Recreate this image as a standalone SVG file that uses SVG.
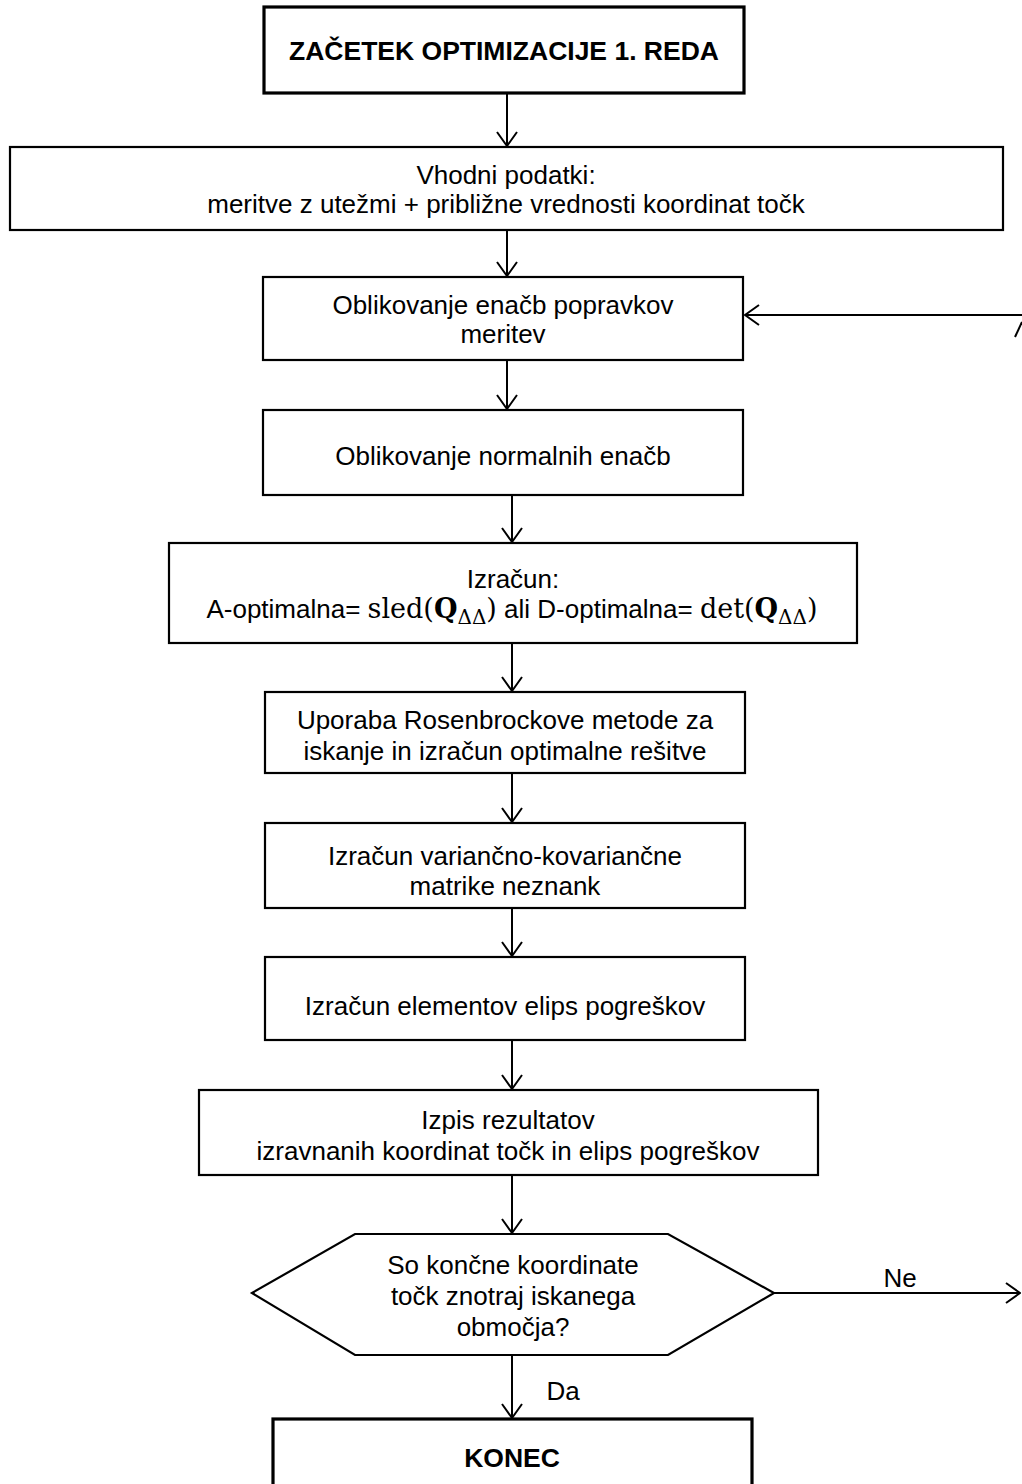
<svg xmlns="http://www.w3.org/2000/svg" width="1022" height="1484" viewBox="0 0 1022 1484">
  <style>
    .box { fill: #fff; stroke: #000; stroke-width: 2.2; }
    .term { fill: #fff; stroke: #000; stroke-width: 3.2; }
    .t { font-family: "Liberation Sans", Arial, sans-serif; font-size: 26px; fill: #000; text-anchor: middle; }
    .b { font-weight: bold; font-size: 26.5px; }
    .m { font-family: "DejaVu Serif", "Liberation Serif", serif; font-size: 27px; }
    .q { font-family: "DejaVu Serif", "Liberation Serif", serif; font-size: 27px; font-weight: bold; }
    .sub { font-family: "DejaVu Serif", "Liberation Serif", serif; font-size: 20px; }
    .edge { fill: none; stroke: #000; stroke-width: 2; }
  </style>
  <defs>
    <marker id="chev" viewBox="0 0 16 22" refX="15" refY="11" markerWidth="16" markerHeight="22" markerUnits="userSpaceOnUse" orient="auto">
      <path d="M1,1 L15,11 L1,21" fill="none" stroke="#000" stroke-width="2"/>
    </marker>
  </defs>
  <rect width="1022" height="1484" fill="#fff"/>

  <g id="connectors">
    <line class="edge" x1="507" y1="93" x2="507" y2="146" marker-end="url(#chev)"/>
    <line class="edge" x1="507" y1="230" x2="507" y2="276" marker-end="url(#chev)"/>
    <line class="edge" x1="1022" y1="315" x2="745" y2="315" marker-end="url(#chev)"/>
    <line class="edge" x1="1015" y1="337" x2="1022" y2="322"/>
    <line class="edge" x1="507" y1="360" x2="507" y2="409" marker-end="url(#chev)"/>
    <line class="edge" x1="512" y1="495" x2="512" y2="542" marker-end="url(#chev)"/>
    <line class="edge" x1="512" y1="643" x2="512" y2="691" marker-end="url(#chev)"/>
    <line class="edge" x1="512" y1="773" x2="512" y2="822" marker-end="url(#chev)"/>
    <line class="edge" x1="512" y1="908" x2="512" y2="956" marker-end="url(#chev)"/>
    <line class="edge" x1="512" y1="1040" x2="512" y2="1089" marker-end="url(#chev)"/>
    <line class="edge" x1="512" y1="1175" x2="512" y2="1233" marker-end="url(#chev)"/>
    <line class="edge" x1="774" y1="1293" x2="1020" y2="1293" marker-end="url(#chev)"/>
    <text class="t" x="900" y="1287">Ne</text>
    <line class="edge" x1="512" y1="1355" x2="512" y2="1418" marker-end="url(#chev)"/>
    <text class="t" x="563" y="1400">Da</text>
  </g>

  <g id="start">
    <rect class="term" x="264" y="7" width="480" height="86"/>
    <text class="t b" x="504" y="60">ZAČETEK OPTIMIZACIJE 1. REDA</text>
  </g>

  <g id="input">
    <rect class="box" x="10" y="147" width="993" height="83"/>
    <text class="t" x="506" y="184">Vhodni podatki:</text>
    <text class="t" x="506" y="213">meritve z utežmi + približne vrednosti koordinat točk</text>
  </g>

  <g id="correction-equations">
    <rect class="box" x="263" y="277" width="480" height="83"/>
    <text class="t" x="503" y="314">Oblikovanje enačb popravkov</text>
    <text class="t" x="503" y="343">meritev</text>
  </g>

  <g id="normal-equations">
    <rect class="box" x="263" y="410" width="480" height="85"/>
    <text class="t" x="503" y="465">Oblikovanje normalnih enačb</text>
  </g>

  <g id="criterion">
    <rect class="box" x="169" y="543" width="688" height="100"/>
    <text class="t" x="513" y="588">Izračun:</text>
    <text class="t" x="512" y="618">A-optimalna= <tspan class="m">sled(</tspan><tspan class="q">Q</tspan><tspan class="sub" dy="6">ΔΔ</tspan><tspan class="m" dy="-6">)</tspan> ali D-optimalna= <tspan class="m">det(</tspan><tspan class="q">Q</tspan><tspan class="sub" dy="6">ΔΔ</tspan><tspan class="m" dy="-6">)</tspan></text>
  </g>

  <g id="rosenbrock">
    <rect class="box" x="265" y="692" width="480" height="81"/>
    <text class="t" x="505" y="729">Uporaba Rosenbrockove metode za</text>
    <text class="t" x="505" y="760">iskanje in izračun optimalne rešitve</text>
  </g>

  <g id="covariance">
    <rect class="box" x="265" y="823" width="480" height="85"/>
    <text class="t" x="505" y="865">Izračun variančno-kovariančne</text>
    <text class="t" x="505" y="895">matrike neznank</text>
  </g>

  <g id="ellipses">
    <rect class="box" x="265" y="957" width="480" height="83"/>
    <text class="t" x="505" y="1015">Izračun elementov elips pogreškov</text>
  </g>

  <g id="output">
    <rect class="box" x="199" y="1090" width="619" height="85"/>
    <text class="t" x="508" y="1129">Izpis rezultatov</text>
    <text class="t" x="508" y="1160">izravnanih koordinat točk in elips pogreškov</text>
  </g>

  <g id="decision">
    <polygon class="box" points="252,1293 355,1234 668,1234 774,1293 668,1355 355,1355"/>
    <text class="t" x="513" y="1274">So končne koordinate</text>
    <text class="t" x="513" y="1305">točk znotraj iskanega</text>
    <text class="t" x="513" y="1336">območja?</text>
  </g>

  <g id="end">
    <rect class="term" x="273" y="1419" width="479" height="90"/>
    <text class="t b" x="512" y="1467">KONEC</text>
  </g>
</svg>
